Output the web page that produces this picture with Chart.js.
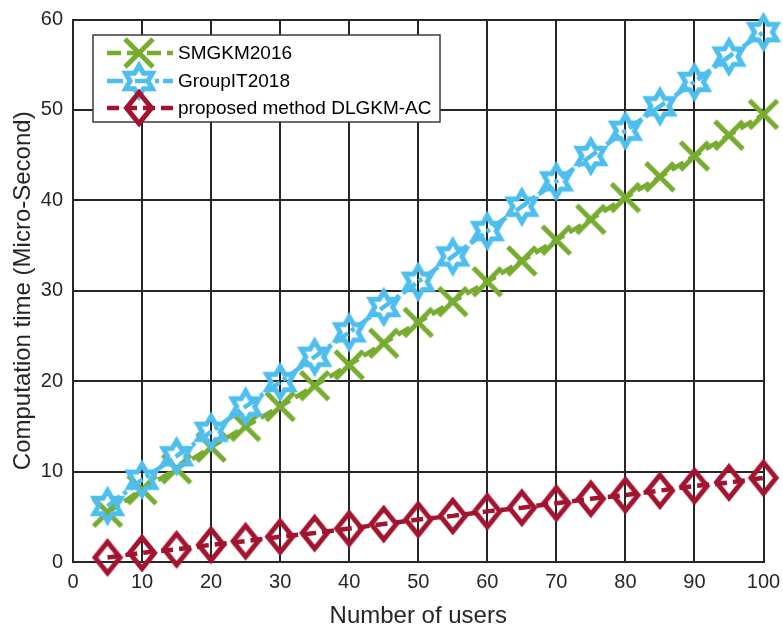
<!DOCTYPE html>
<html>
<head>
<meta charset="utf-8">
<script src="https://cdn.jsdelivr.net/npm/chart.js@4"></script>
<style>
  html, body { margin: 0; padding: 0; background: #fff; }
  #wrap { width: 783px; height: 631px; }
</style>
</head>
<body>
<div id="wrap"><canvas id="myChart" width="783" height="631"></canvas></div>
<script>
// data
const users = [5, 10, 15, 20, 25, 30, 35, 40, 45, 50, 55, 60, 65, 70, 75, 80, 85, 90, 95, 100];
const smgkm = [5.5, 8.0, 10.3, 12.7, 15.0, 17.2, 19.5, 21.8, 24.2, 26.5, 28.8, 31.0, 33.3, 35.6, 37.9, 40.3, 42.6, 44.9, 47.2, 49.5];
const groupIT = [6.2, 9.1, 11.7, 14.4, 17.2, 19.9, 22.7, 25.4, 28.2, 31.0, 33.8, 36.6, 39.3, 42.1, 44.9, 47.7, 50.4, 53.1, 55.9, 58.6];
const dlgkm = [0.5, 1.0, 1.4, 1.9, 2.3, 2.8, 3.2, 3.7, 4.2, 4.7, 5.1, 5.6, 6.0, 6.5, 7.0, 7.4, 7.9, 8.4, 8.8, 9.3];
const seriesNames = ['SMGKM2016', 'GroupIT2018', 'proposed method DLGKM-AC'];
const xTicks = [0, 10, 20, 30, 40, 50, 60, 70, 80, 90, 100];
const yTicks = [0, 10, 20, 30, 40, 50, 60];

const GREEN = '#77AC30', BLUE = '#4DBEEE', RED = '#A2142F';
const INK = '#262626';
const FONT = '"Liberation Sans", Arial, sans-serif';

// marker images (MATLAB-like x, hexagram, diamond), drawn once
function markerCanvas(size, draw) {
    const c = document.createElement('canvas');
    c.width = size; c.height = size;
    const g = c.getContext('2d');
    g.lineWidth = 5;
    g.lineJoin = 'miter';
    draw(g, size / 2);
    return c;
}
const xImg = markerCanvas(42, (g, m) => {
    const d = 14;
    g.strokeStyle = GREEN;
    g.beginPath();
    g.moveTo(m - d, m - d); g.lineTo(m + d, m + d);
    g.moveTo(m - d, m + d); g.lineTo(m + d, m - d);
    g.stroke();
});
const starImg = markerCanvas(44, (g, m) => {
    const R = 15.5, r = R / Math.sqrt(3);
    g.strokeStyle = BLUE;
    g.beginPath();
    for (let i = 0; i < 12; i++) {
        const a = -Math.PI / 2 + i * Math.PI / 6;
        const rr = i % 2 === 0 ? R : r;
        const px = m + rr * Math.cos(a), py = m + rr * Math.sin(a);
        if (i === 0) g.moveTo(px, py); else g.lineTo(px, py);
    }
    g.closePath();
    g.stroke();
});
const diamondImg = markerCanvas(46, (g, m) => {
    const hw = 12.5, hh = 15.5;
    g.strokeStyle = RED;
    g.beginPath();
    g.moveTo(m, m - hh); g.lineTo(m + hw, m);
    g.lineTo(m, m + hh); g.lineTo(m - hw, m);
    g.closePath();
    g.stroke();
});

function toXY(ys) {
    return users.map((u, i) => ({ x: u, y: ys[i] }));
}

// legend drawn inside plot, MATLAB style
const boxLegend = {
    id: 'boxLegend',
    afterDatasetsDraw(chart) {
        const ctx = chart.ctx;
        const x0 = 93, y0 = 35, w = 347, h = 87;
        ctx.save();
        ctx.fillStyle = '#fff';
        ctx.fillRect(x0, y0, w, h);
        ctx.strokeStyle = '#3a3a3a';
        ctx.lineWidth = 1.5;
        ctx.strokeRect(x0, y0, w, h);
        const rows = [53, 81, 108];
        chart.data.datasets.forEach((ds, i) => {
            const y = rows[i];
            ctx.strokeStyle = ds.borderColor;
            ctx.lineWidth = ds.borderWidth;
            ctx.setLineDash(ds.borderDash);
            ctx.beginPath();
            ctx.moveTo(107, y);
            ctx.lineTo(173, y);
            ctx.stroke();
            ctx.setLineDash([]);
            const img = ds.pointStyle;
            ctx.drawImage(img, 139 - img.width / 2, y - img.height / 2);
            ctx.fillStyle = '#000';
            ctx.font = '19px ' + FONT;
            ctx.textBaseline = 'middle';
            ctx.textAlign = 'left';
            ctx.fillText(ds.label, 178, y + 1);
        });
        ctx.restore();
    }
};

const ctx = document.getElementById('myChart').getContext('2d');
new Chart(ctx, {
    type: 'line',
    data: {
        datasets: [
            {
                label: seriesNames[0],
                data: toXY(smgkm),
                borderColor: GREEN,
                borderWidth: 4.5,
                borderDash: [14, 6],
                pointStyle: xImg,
                pointRadius: 15,
                tension: 0,
                clip: false,
                order: 3
            },
            {
                label: seriesNames[1],
                data: toXY(groupIT),
                borderColor: BLUE,
                borderWidth: 4.5,
                borderDash: [16, 4, 4, 4],
                pointStyle: starImg,
                pointRadius: 15,
                tension: 0,
                clip: false,
                order: 2
            },
            {
                label: seriesNames[2],
                data: toXY(dlgkm),
                borderColor: RED,
                borderWidth: 4.5,
                borderDash: [12, 6],
                pointStyle: diamondImg,
                pointRadius: 15,
                tension: 0,
                clip: false,
                order: 1
            }
        ]
    },
    options: {
        responsive: false,
        animation: false,
        layout: { padding: { top: 14, right: 18, left: 0, bottom: 0 } },
        plugins: {
            legend: { display: false },
            tooltip: { enabled: false }
        },
        scales: {
            x: {
                type: 'linear',
                min: 0,
                max: 100,
                afterBuildTicks: s => { s.ticks = xTicks.map(v => ({ value: v })); },
                afterFit: s => { s.height = 69; s.paddingLeft = 0; s.paddingRight = 0; },
                grid: { color: INK, lineWidth: 2, drawTicks: false },
                border: { color: INK, width: 2 },
                ticks: { color: INK, font: { family: FONT, size: 20 }, padding: 8, maxRotation: 0 },
                title: {
                    display: true,
                    text: 'Number of users',
                    color: INK,
                    font: { family: FONT, size: 24 },
                    padding: { top: 2, bottom: 0 }
                }
            },
            y: {
                type: 'linear',
                min: 0,
                max: 60,
                afterBuildTicks: s => { s.ticks = yTicks.map(v => ({ value: v })); },
                afterFit: s => { s.width = 73; s.paddingTop = 0; s.paddingBottom = 0; },
                grid: { color: INK, lineWidth: 2, drawTicks: false },
                border: { color: INK, width: 2 },
                ticks: { color: INK, font: { family: FONT, size: 20 }, padding: 10 },
                title: {
                    display: true,
                    text: 'Computation time (Micro-Second)',
                    color: INK,
                    font: { family: FONT, size: 24 },
                    padding: { top: 9, bottom: 0 }
                }
            }
        }
    },
    plugins: [boxLegend]
});
</script>
</body>
</html>
